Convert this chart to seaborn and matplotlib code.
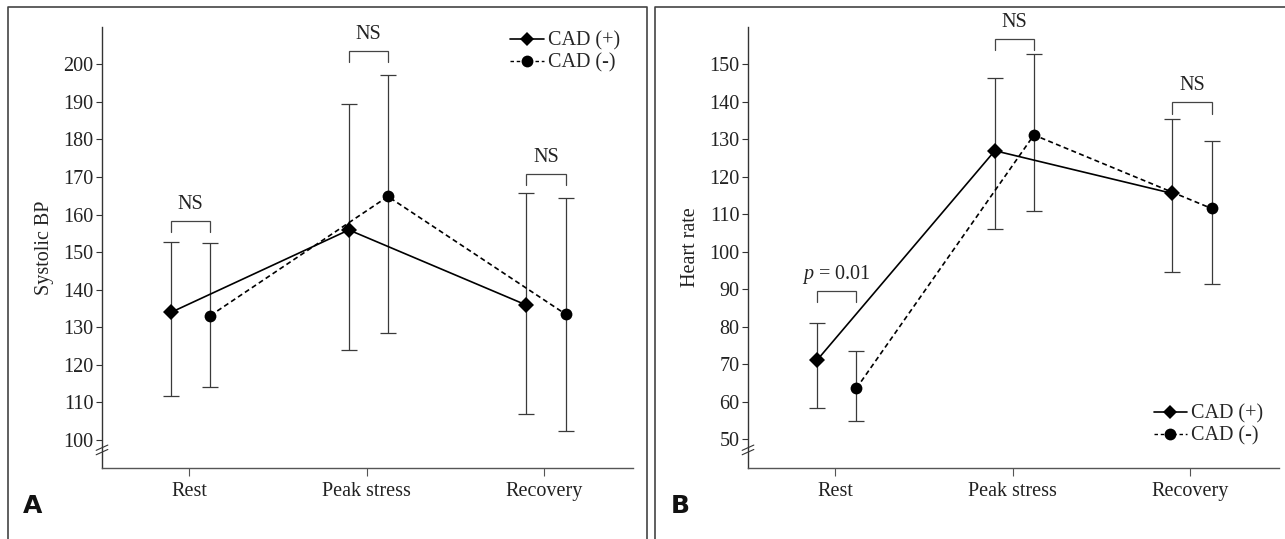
import numpy as np
import pandas as pd
import seaborn as sns
import matplotlib
matplotlib.use("Agg")
import matplotlib.pyplot as plt
from matplotlib.lines import Line2D

# ---------------- data ----------------
phases = ["Rest", "Peak stress", "Recovery"]
groups = ["CAD (+)", "CAD (-)"]

sbp_pos_mean = [134.0, 155.9, 135.9]
sbp_pos_upper = [152.8, 189.4, 165.8]
sbp_pos_lower = [111.8, 124.0, 106.8]
sbp_neg_mean = [133.1, 164.8, 133.5]
sbp_neg_upper = [152.4, 197.2, 164.5]
sbp_neg_lower = [114.2, 128.4, 102.4]

hr_pos_mean = [71.1, 126.9, 115.5]
hr_pos_upper = [80.9, 146.2, 135.3]
hr_pos_lower = [58.2, 106.0, 94.6]
hr_neg_mean = [63.5, 131.1, 111.5]
hr_neg_upper = [73.5, 152.6, 129.5]
hr_neg_lower = [54.9, 110.9, 91.3]

sbp_bracket_levels = [158.3, 203.6, 170.8]
sbp_bracket_labels = ["NS", "NS", "NS"]
hr_bracket_levels = [89.5, 156.8, 139.8]
hr_bracket_labels = ["$p$ = 0.01", "NS", "NS"]

sbp_ticks = list(range(100, 201, 10))
hr_ticks = list(range(50, 151, 10))

# ---------------- style ----------------
sns.set_theme(style="ticks")
plt.rcParams["font.family"] = ["Liberation Serif", "DejaVu Serif"]
plt.rcParams["mathtext.fontset"] = "custom"
plt.rcParams["mathtext.it"] = "Liberation Serif:italic"
plt.rcParams["mathtext.rm"] = "Liberation Serif"

FS = 14.5
DARK = "#333333"
offsets = {"CAD (+)": -0.10, "CAD (-)": 0.12}

fig = plt.figure(figsize=(12.85, 5.39), dpi=100)
axA = fig.add_axes([102 / 1285, 1 - 468 / 539, 531 / 1285, 441 / 539])
axB = fig.add_axes([748 / 1285, 1 - 468 / 539, 531 / 1285, 441 / 539])


def build(pm, pu, pl, nm, nu, nl):
    rows = []
    for g, m, u, l in [("CAD (+)", pm, pu, pl), ("CAD (-)", nm, nu, nl)]:
        for i, ph in enumerate(phases):
            rows.append({"phase": ph, "group": g, "x": i + offsets[g],
                         "mean": m[i], "upper": u[i], "lower": l[i]})
    return pd.DataFrame(rows)


def draw(ax, df, ylim, ticks, ylabel, levels, labels, legend_kw):
    for g in groups:
        d = df[df.group == g]
        ax.errorbar(d["x"], d["mean"],
                    yerr=[d["mean"] - d["lower"], d["upper"] - d["mean"]],
                    fmt="none", ecolor="#3a3a3a", elinewidth=0.9,
                    capsize=6, capthick=0.9, zorder=2)
    sns.lineplot(data=df, x="x", y="mean", hue="group", style="group",
                 palette={"CAD (+)": "black", "CAD (-)": "black"},
                 markers={"CAD (+)": "D", "CAD (-)": "o"},
                 dashes={"CAD (+)": "", "CAD (-)": (3, 2)},
                 markersize=8.5, markeredgewidth=0, linewidth=1.2,
                 sort=False, legend=False, ax=ax, zorder=3)
    # significance brackets
    for i, (lev, lab) in enumerate(zip(levels, labels)):
        x1, x2 = i + offsets["CAD (+)"], i + offsets["CAD (-)"]
        ax.plot([x1, x1, x2, x2], [lev - 3, lev, lev, lev - 3],
                color="#444444", lw=0.9, solid_joinstyle="miter")
        ax.text(i + 0.01, lev + 4.4, lab, ha="center", va="center",
                fontsize=FS, color="#222222")

    ax.set_xlim(-0.49, 2.5)
    ax.set_ylim(*ylim)
    ax.set_xticks(range(len(phases)))
    ax.set_xticklabels(phases, fontsize=FS, color="#222222")
    ax.set_yticks(ticks)
    ax.set_yticklabels([str(t) for t in ticks], fontsize=FS, color="#222222")
    ax.set_xlabel("")
    ax.set_ylabel(ylabel, fontsize=FS, color="#222222", labelpad=7)
    ax.tick_params(axis="y", direction="out", length=4, width=0.8,
                   color=DARK, pad=2)
    ax.tick_params(axis="x", direction="out", length=6, width=0.8,
                   color="#555555", pad=4)
    sns.despine(ax=ax)
    ax.spines["left"].set_color(DARK)
    ax.spines["left"].set_linewidth(1.0)
    ax.spines["bottom"].set_color("#555555")
    ax.spines["bottom"].set_linewidth(1.0)
    # axis break marks
    for yc in (0.036, 0.046):
        ax.plot([-0.011, 0.011], [yc - 0.006, yc + 0.006],
                transform=ax.transAxes, color=DARK, lw=0.8, clip_on=False)

    handles = [
        Line2D([0], [0], color="black", lw=1.2, marker="D", ms=7.5, mew=0),
        Line2D([0], [0], color="black", lw=1.0, ls=(0, (2.5, 2)), marker="o",
               ms=8.5, mew=0),
    ]
    ax.legend(handles, groups, frameon=False, fontsize=FS, handlelength=1.65,
              handletextpad=0.2, labelspacing=0.15, borderpad=0,
              borderaxespad=0, **legend_kw)


dfA = build(sbp_pos_mean, sbp_pos_upper, sbp_pos_lower,
            sbp_neg_mean, sbp_neg_upper, sbp_neg_lower)
dfB = build(hr_pos_mean, hr_pos_upper, hr_pos_lower,
            hr_neg_mean, hr_neg_upper, hr_neg_lower)

draw(axA, dfA, (92.55, 209.9), sbp_ticks, "Systolic BP",
     sbp_bracket_levels, sbp_bracket_labels,
     dict(loc="upper right", bbox_to_anchor=(0.975, 0.99)))
draw(axB, dfB, (42.27, 159.9), hr_ticks, "Heart rate",
     hr_bracket_levels, hr_bracket_labels,
     dict(loc="lower right", bbox_to_anchor=(0.97, 0.05)))

# panel frames
for x0, x1 in [(8, 647), (655, 1300)]:
    fig.add_artist(Line2D([x0 / 1285, x0 / 1285, x1 / 1285, x1 / 1285],
                          [-0.01, 1 - 7 / 539, 1 - 7 / 539, -0.01],
                          transform=fig.transFigure, color="#444444", lw=1.2))

# panel letters
for lab, xp in [("A", 33), ("B", 680)]:
    fig.text(xp / 1285, 1 - 513 / 539, lab, ha="center", va="baseline",
             fontsize=18, fontweight="bold",
             family=["Liberation Sans Narrow", "DejaVu Sans"], color="#111111")

fig.savefig("out.png", dpi=100)
